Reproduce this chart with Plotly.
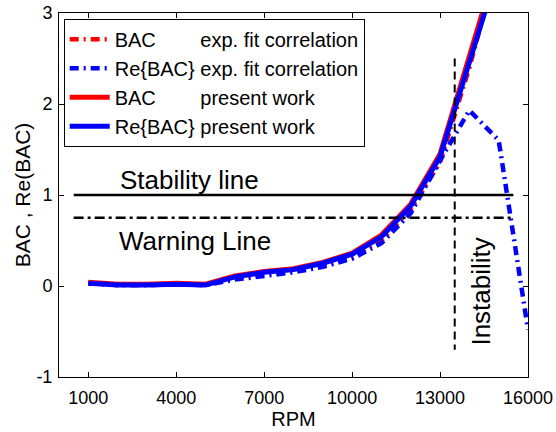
import plotly.graph_objects as go

NB = "\u00a0"

rpm = [1000, 2000, 3000, 4000, 5000, 6000, 7000, 8000, 9000, 10000, 11000, 12000, 13000, 14000, 15000]
rpm_re_fit = [1000, 2000, 3000, 4000, 5000, 6000, 7000, 8000, 9000, 10000, 11000, 12000, 13000, 14000, 15000, 16000]

bac_fit = [0.03, 0.01, 0.01, 0.02, 0.01, 0.09, 0.13, 0.17, 0.23, 0.32, 0.50, 0.84, 1.36, 2.40, 3.60]
re_bac_fit = [0.03, 0.01, 0.01, 0.02, 0.01, 0.07, 0.11, 0.15, 0.21, 0.30, 0.47, 0.80, 1.38, 1.93, 1.60, -0.48]
bac_present = [0.04, 0.02, 0.02, 0.03, 0.02, 0.11, 0.16, 0.19, 0.26, 0.36, 0.56, 0.90, 1.45, 2.48, 3.60]
re_bac_present = [0.03, 0.01, 0.01, 0.02, 0.01, 0.10, 0.15, 0.18, 0.25, 0.35, 0.54, 0.88, 1.42, 2.42, 3.50]

stability_x = [500, 15500]
stability_y = [1, 1]
warning_x = [500, 15500]
warning_y = [0.75, 0.75]
instab_x = [13500, 13500]
instab_y = [2.5, -0.7]

x_ticks = [1000, 4000, 7000, 10000, 13000, 16000]
y_ticks = [-1, 0, 1, 2, 3]

names = [
    "BAC" + NB * 8 + "exp. fit correlation",
    "Re{BAC}" + NB + "exp. fit correlation",
    "BAC" + NB * 8 + "present work",
    "Re{BAC}" + NB + "present work",
]

FONT = "Liberation Sans, Arial, sans-serif"
DD = "9px,5px,2px,5px"

fig = go.Figure()
fig.add_trace(go.Scatter(x=rpm, y=bac_fit, mode="lines", name=names[0],
                         line=dict(color="#ff0000", width=4.5, dash=DD)))
fig.add_trace(go.Scatter(x=rpm_re_fit, y=re_bac_fit, mode="lines", name=names[1],
                         line=dict(color="#0000ff", width=4.5, dash=DD)))
fig.add_trace(go.Scatter(x=rpm, y=bac_present, mode="lines", name=names[2],
                         line=dict(color="#ff0000", width=5)))
fig.add_trace(go.Scatter(x=rpm, y=re_bac_present, mode="lines", name=names[3],
                         line=dict(color="#0000ff", width=5)))

fig.add_trace(go.Scatter(x=stability_x, y=stability_y, mode="lines", showlegend=False,
                         line=dict(color="black", width=2.5)))
fig.add_trace(go.Scatter(x=warning_x, y=warning_y, mode="lines", showlegend=False,
                         line=dict(color="black", width=2.5, dash="10px,4px,3px,4px")))
fig.add_trace(go.Scatter(x=instab_x, y=instab_y, mode="lines", showlegend=False,
                         line=dict(color="black", width=2, dash="8px,5px")))

fig.add_annotation(x=4450, y=1.17, text="Stability line", showarrow=False,
                   font=dict(size=26, color="black", family=FONT))
fig.add_annotation(x=4635, y=0.49, text="Warning Line", showarrow=False,
                   font=dict(size=26, color="black", family=FONT))
fig.add_annotation(x=14400, y=-0.06, text="Instability", showarrow=False, textangle=-90,
                   font=dict(size=26, color="black", family=FONT))

axis_common = dict(showgrid=False, zeroline=False, showline=True, linecolor="black",
                   linewidth=1, mirror="ticks", ticks="inside", ticklen=5, automargin=False,
                   ticklabeloverflow="allow",
                   tickcolor="black", tickfont=dict(size=18, color="black", family=FONT))

fig.update_xaxes(range=[0, 16000], tickvals=x_ticks, ticktext=[str(v) for v in x_ticks],
                 title=dict(text="RPM", font=dict(size=20, color="black", family=FONT), standoff=0),
                 ticklabelstandoff=4, **axis_common)
fig.update_yaxes(range=[-1, 3], tickvals=y_ticks, ticktext=[str(v) for v in y_ticks],
                 title=dict(text="BAC , Re(BAC)", font=dict(size=21, color="black", family=FONT), standoff=0),
                 ticklabelstandoff=2, **axis_common)

fig.update_layout(
    width=556, height=432,
    margin=dict(l=58.5, r=28, t=13.3, b=55.3, pad=0),
    plot_bgcolor="white", paper_bgcolor="white",
    font=dict(family=FONT, color="black"),
    legend=dict(x=0.01, y=0.984, xanchor="left", yanchor="top",
                bgcolor="white", bordercolor="black", borderwidth=1,
                font=dict(size=20, color="black", family=FONT),
                itemwidth=40, tracegroupgap=0),
    showlegend=True,
)

# remove the default 8px page margin so the figure sits at the window's top-left
fig.write_html("out.html", config={"displayModeBar": False},
               post_script="document.body.style.margin='0';document.body.style.overflow='hidden';")
